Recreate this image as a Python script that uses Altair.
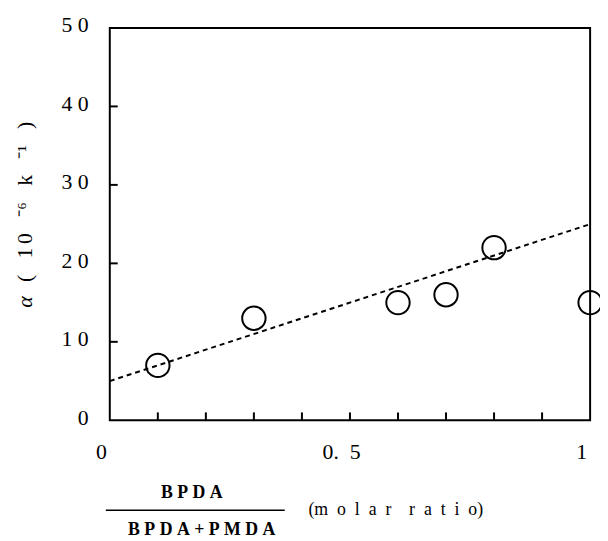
import altair as alt
import pandas as pd

# data
ratio = [0.1, 0.3, 0.6, 0.7, 0.8, 1.0]
alpha = [7, 13, 15, 16, 22, 15]
fit_x = [0.0, 1.0]
fit_y = [5, 25]
x_minor_ticks = [0.1, 0.2, 0.3, 0.4, 0.5, 0.6, 0.7, 0.8, 0.9]
y_minor_ticks = [10, 20, 30, 40]
x_tick_values = [0, 0.5, 1]
y_tick_values = [0, 10, 20, 30, 40, 50]

pts = pd.DataFrame({"ratio": ratio, "alpha": alpha})
fit = pd.DataFrame({"ratio": fit_x, "alpha": fit_y})
xt = pd.DataFrame({"v": x_minor_ticks})
yt = pd.DataFrame({"v": y_minor_ticks})

FONT = "Liberation Serif"
EN = "\u2002"
FOUR = "\u2005"
SIX = "\u2006"
xscale = alt.Scale(domain=[0, 1], nice=False)
yscale = alt.Scale(domain=[0, 50], nice=False)

xaxis = alt.Axis(values=x_tick_values,
                 labelExpr=f"datum.value==0.5 ? '0.{EN}5' : (datum.value==0 ? '0' : '1')",
                 domain=False, ticks=False, grid=False, labelPadding=22, labelOffset=-9,
                 labelFont=FONT, labelFontSize=22, labelColor="black", title=None,
                 labelFlush=False)
yaxis = alt.Axis(values=y_tick_values,
                 labelExpr=f"replace(format(datum.value, 'd'), /(\\d)(\\d)/, '$1{FOUR}$2')",
                 domain=False, ticks=False, grid=False, labelPadding=22, labelOffset=-3,
                 labelFont=FONT, labelFontSize=22, labelColor="black", title=None)

base_x = alt.X("ratio:Q", scale=xscale, axis=xaxis)
base_y = alt.Y("alpha:Q", scale=yscale, axis=yaxis)

line = alt.Chart(fit).mark_line(color="black", strokeWidth=2, strokeDash=[5, 4]).encode(
    x=base_x, y=base_y)
circles = alt.Chart(pts).mark_point(shape="circle", size=560, filled=False, color="black",
                                    strokeWidth=2, opacity=1).encode(
    x=alt.X("ratio:Q", scale=xscale), y=alt.Y("alpha:Q", scale=yscale))

xticks = alt.Chart(xt).mark_rule(color="black", strokeWidth=2).encode(
    x=alt.X("v:Q", scale=xscale), y=alt.value(397), y2=alt.value(389))
yticks = alt.Chart(yt).mark_rule(color="black", strokeWidth=2).encode(
    y=alt.Y("v:Q", scale=yscale), x=alt.value(0), x2=alt.value(8))

GAP = EN + FOUR
ylab_alpha = alt.Chart(pd.DataFrame({"t": ["α"]})).mark_text(
    font=FONT, fontSize=22, fontStyle="italic", angle=270, color="black", align="left").encode(
    text="t:N", x=alt.value(-86), y=alt.value(283))
ylab_rest = f"({GAP}1{SIX}0{GAP}⁻⁶{GAP}k{GAP}⁻¹{GAP})"
ylabel = alt.Chart(pd.DataFrame({"t": [ylab_rest]})).mark_text(
    font=FONT, fontSize=22, angle=270, color="black", align="left").encode(
    text="t:N", x=alt.value(-86), y=alt.value(257))

num = alt.Chart(pd.DataFrame({"t": [FOUR.join("BPDA")]})).mark_text(
    font=FONT, fontSize=18, fontWeight="bold", color="black").encode(
    text="t:N", x=alt.value(83), y=alt.value(471))
den = alt.Chart(pd.DataFrame({"t": [FOUR.join("BPDA+PMDA")]})).mark_text(
    font=FONT, fontSize=18, fontWeight="bold", color="black").encode(
    text="t:N", x=alt.value(93), y=alt.value(508))
bar = alt.Chart(pd.DataFrame({"t": ["x"]})).mark_rule(color="black", strokeWidth=1.5).encode(
    x=alt.value(-4), x2=alt.value(177), y=alt.value(488))
molar = alt.Chart(pd.DataFrame({"t": ["(" + EN.join("molar") + EN + EN + EN.join("ratio") + ")"]})).mark_text(
    font=FONT, fontSize=18, color="black", align="left").encode(
    text="t:N", x=alt.value(201), y=alt.value(488))

chart = alt.layer(line, circles, xticks, yticks, ylab_alpha, ylabel, num, den, bar, molar).properties(
    width=486, height=397,
    background="white",
    autosize=alt.AutoSizeParams(type="none"),
    padding={"left": 103, "top": 17, "right": 10, "bottom": 124},
).configure_view(stroke="black", strokeWidth=2)

chart.save("out.html", embed_options={"renderer": "svg", "actions": False})
